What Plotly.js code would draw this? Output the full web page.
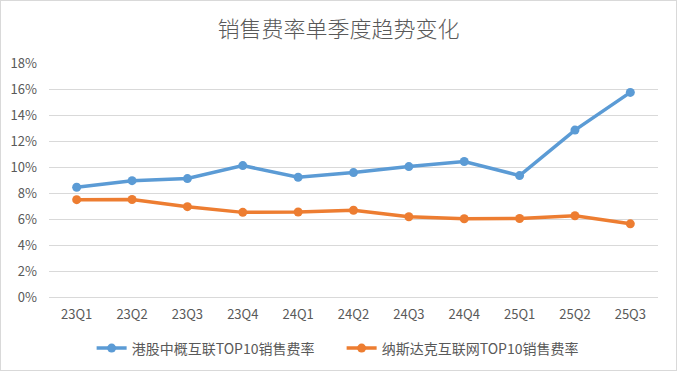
<!DOCTYPE html>
<html>
<head>
<meta charset="utf-8">
<script src="https://cdn.plot.ly/plotly-3.0.1.min.js"></script>
<style>
html,body{margin:0;padding:0;background:#fff;}
#chart{width:675px;height:369px;border:1px solid #d9d9d9;}
</style>
</head>
<body>
<div id="chart"></div>
<script>
const quarters = ['23Q1','23Q2','23Q3','23Q4','24Q1','24Q2','24Q3','24Q4','25Q1','25Q2','25Q3'];
const hkName = '港股中概互联TOP10销售费率';
const hkValues = [8.44, 8.95, 9.11, 10.11, 9.21, 9.57, 10.03, 10.42, 9.34, 12.84, 15.74];
const nasdaqName = '纳斯达克互联网TOP10销售费率';
const nasdaqValues = [7.49, 7.50, 6.95, 6.51, 6.54, 6.67, 6.17, 6.02, 6.04, 6.25, 5.63];
const titleText = '销售费率单季度趋势变化';

const FONT = 'Noto Sans CJK SC, Liberation Sans, sans-serif';

const traces = [
  {x: quarters, y: hkValues, name: hkName, type: 'scatter', mode: 'lines+markers',
   line: {color: '#5B9BD5', width: 3.5}, marker: {color: '#5B9BD5', size: 9}},
  {x: quarters, y: nasdaqValues, name: nasdaqName, type: 'scatter', mode: 'lines+markers',
   line: {color: '#ED7D31', width: 3.5}, marker: {color: '#ED7D31', size: 9}}
];

const layout = {
  width: 675, height: 369,
  margin: {l: 48, r: 18, t: 62, b: 73, pad: 0, autoexpand: false},
  paper_bgcolor: '#ffffff', plot_bgcolor: '#ffffff',
  font: {family: FONT, color: '#595959', size: 13},
  title: {text: titleText, x: 0.5, xanchor: 'center', y: 0.924, yanchor: 'middle',
          font: {family: FONT, size: 22, color: '#595959', weight: 300}},
  xaxis: {type: 'category', showgrid: false, showline: true, linecolor: '#d9d9d9', linewidth: 1,
          ticks: '', tickfont: {size: 13, color: '#595959'}, ticklabelstandoff: 5, zeroline: false,
          tickangle: 0, automargin: false, range: [-0.5, quarters.length - 0.5]},
  yaxis: {range: [0, 18], dtick: 2, tick0: 0, ticksuffix: '%', showgrid: true, gridcolor: '#d9d9d9',
          gridwidth: 1, zeroline: false, showline: false, ticks: '', ticklabelstandoff: 11,
          automargin: false, tickfont: {size: 13, color: '#595959'}},
  showlegend: true,
  legend: {orientation: 'h', x: 0.07, xanchor: 'left', y: -0.22, yanchor: 'middle',
           entrywidth: 205, entrywidthmode: 'pixels',
           font: {family: FONT, size: 14, color: '#595959'}},
};

Plotly.newPlot('chart', traces, layout, {displayModeBar: false, staticPlot: true});
</script>
</body>
</html>
